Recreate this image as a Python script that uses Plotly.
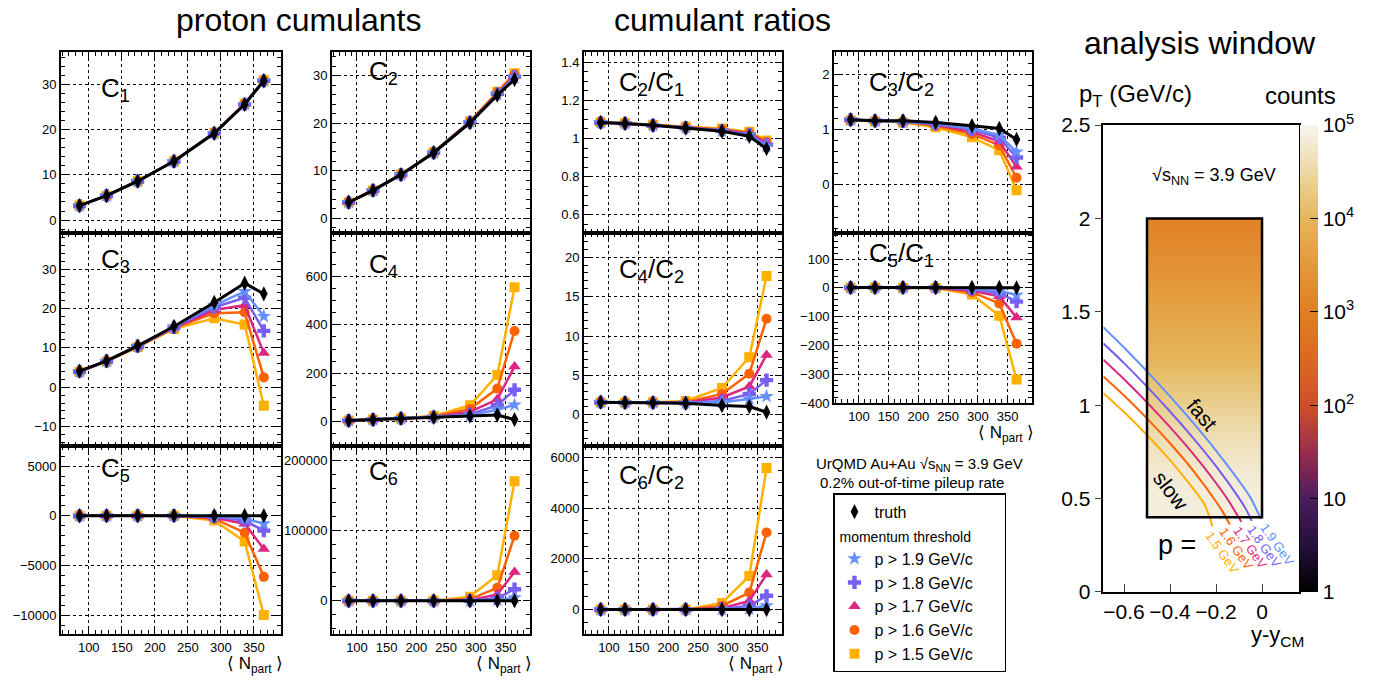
import numpy as np
import plotly.graph_objects as go

W, H = 1378, 681
FONT = "Liberation Sans, Arial, Helvetica, sans-serif"

# ---------------- data ----------------
npart = [86, 127, 174, 229, 290, 336, 365]

C1 = {
    "truth": [3.2, 5.4, 8.6, 13.0, 19.2, 25.6, 30.8],
    "1.9": [3.2, 5.4, 8.6, 13.0, 19.2, 25.6, 30.8],
    "1.8": [3.2, 5.4, 8.6, 13.0, 19.2, 25.6, 30.8],
    "1.7": [3.2, 5.4, 8.6, 13.0, 19.3, 25.7, 30.9],
    "1.6": [3.2, 5.4, 8.6, 13.0, 19.3, 25.7, 30.9],
    "1.5": [3.2, 5.4, 8.6, 13.0, 19.3, 25.7, 30.9],
}
C2 = {
    "truth": [3.4, 5.9, 9.2, 13.8, 20.1, 25.9, 29.2],
    "1.9": [3.4, 5.9, 9.2, 13.8, 20.2, 26.1, 29.6],
    "1.8": [3.4, 5.9, 9.2, 13.8, 20.2, 26.2, 29.8],
    "1.7": [3.4, 5.9, 9.2, 13.9, 20.3, 26.3, 30.0],
    "1.6": [3.4, 5.9, 9.2, 13.9, 20.3, 26.5, 30.3],
    "1.5": [3.4, 5.9, 9.3, 13.9, 20.4, 26.6, 30.5],
}
C3 = {
    "truth": [4.1, 6.7, 10.5, 15.4, 21.5, 26.4, 23.7],
    "1.9": [4.0, 6.6, 10.4, 15.3, 20.8, 24.3, 18.0],
    "1.8": [4.0, 6.6, 10.4, 15.2, 20.3, 22.7, 14.3],
    "1.7": [4.0, 6.6, 10.3, 15.1, 19.6, 20.8, 8.7],
    "1.6": [4.0, 6.6, 10.3, 15.0, 18.8, 19.0, 2.5],
    "1.5": [3.9, 6.5, 10.2, 14.8, 17.5, 15.9, -4.7],
}
C4 = {
    "truth": [5, 9, 14, 19, 24, 28, 9],
    "1.9": [5, 9, 14, 20, 27, 50, 70],
    "1.8": [5, 9, 14, 20, 31, 68, 132],
    "1.7": [5, 9, 14, 21, 41, 93, 228],
    "1.6": [5, 9, 14, 22, 53, 137, 375],
    "1.5": [5, 9, 15, 24, 68, 193, 555],
}
C5 = {
    "truth": [2, 4, 8, 15, 20, 25, 10],
    "1.9": [2, 4, 8, 14, -60, -280, -800],
    "1.8": [2, 4, 8, 13, -100, -480, -1500],
    "1.7": [2, 4, 7, 12, -190, -800, -3350],
    "1.6": [2, 4, 7, 10, -290, -1700, -6150],
    "1.5": [2, 4, 6, 5, -480, -2600, -10000],
}
C6 = {
    "truth": [0, 0, 0, 0, 0, 0, 0],
    "1.9": [0, 0, 0, 0, 100, 800, 4600],
    "1.8": [0, 0, 0, 0, 300, 3700, 16500],
    "1.7": [0, 0, 0, 0, 1000, 9000, 41000],
    "1.6": [0, 0, 0, 0, 2500, 18500, 92500],
    "1.5": [0, 0, 0, 0, 5700, 36500, 170000],
}
C2_C1 = {
    "truth": [1.084, 1.079, 1.069, 1.055, 1.038, 1.012, 0.947],
    "1.9": [1.084, 1.079, 1.069, 1.056, 1.040, 1.018, 0.960],
    "1.8": [1.084, 1.079, 1.069, 1.057, 1.042, 1.022, 0.968],
    "1.7": [1.084, 1.079, 1.070, 1.058, 1.045, 1.026, 0.975],
    "1.6": [1.085, 1.080, 1.071, 1.060, 1.048, 1.030, 0.983],
    "1.5": [1.086, 1.081, 1.072, 1.062, 1.052, 1.035, 0.990],
}
C3_C2 = {
    "truth": [1.18, 1.16, 1.16, 1.13, 1.07, 1.02, 0.82],
    "1.9": [1.18, 1.16, 1.15, 1.11, 1.02, 0.90, 0.59],
    "1.8": [1.18, 1.16, 1.15, 1.10, 1.00, 0.85, 0.49],
    "1.7": [1.18, 1.16, 1.14, 1.09, 0.96, 0.78, 0.32],
    "1.6": [1.17, 1.15, 1.14, 1.07, 0.92, 0.71, 0.12],
    "1.5": [1.17, 1.15, 1.13, 1.04, 0.86, 0.62, -0.11],
}
C4_C2 = {
    "truth": [1.6, 1.55, 1.55, 1.47, 1.18, 1.05, 0.34],
    "1.9": [1.6, 1.55, 1.55, 1.5, 1.6, 2.0, 2.35],
    "1.8": [1.6, 1.55, 1.55, 1.5, 1.75, 2.65, 4.4],
    "1.7": [1.6, 1.55, 1.56, 1.55, 2.2, 3.6, 7.6],
    "1.6": [1.6, 1.56, 1.57, 1.6, 2.65, 5.2, 12.2],
    "1.5": [1.6, 1.56, 1.58, 1.75, 3.4, 7.3, 17.6],
}
C5_C1 = {
    "truth": [1, 1, 1, 1, 1, 1, 0],
    "1.9": [1, 1, 1, 1, -3, -10, -25],
    "1.8": [1, 1, 1, 1, -5, -18, -48],
    "1.7": [1, 1, 1, 0, -10, -29, -103],
    "1.6": [1, 1, 1, 0, -15, -54, -194],
    "1.5": [1, 1, 0, -1, -23, -97, -318],
}
C6_C2 = {
    "truth": [0, 0, 0, 0, 0, 0, 0],
    "1.9": [0, 0, 0, 0, 10, 30, 150],
    "1.8": [0, 0, 0, 0, 25, 140, 540],
    "1.7": [0, 0, 0, 0, 50, 340, 1385],
    "1.6": [0, 0, 0, 0, 140, 670, 3045],
    "1.5": [0, 0, 0, 0, 260, 1320, 5590],
}

# tick labels written without thousands separators (as in the reference)
c5_tickvals = [-10000, -5000, 0, 5000]
c5_ticktext = ["−10000", "−5000", "0", "5000"]
c6_tickvals = [0, 100000, 200000]
c6_ticktext = ["0", "100000", "200000"]

# analysis window: counts per pT bin (bin edges below), two rapidity columns
window_y_edges = [-0.5, -0.25, 0.0]
window_pt_edges = [0.4, 0.5, 0.6, 0.7, 0.8, 0.9, 1.0, 1.1, 1.2, 1.3, 1.4,
                   1.5, 1.6, 1.7, 1.8, 1.9, 2.0]
counts_pt = [75000, 72000, 63000, 50000, 38000, 28000, 20000, 14000, 10000,
             7500, 5600, 4200, 3100, 2300, 1700, 1250]
window_box_y = [-0.5, 0.0]
window_box_pt = [0.4, 2.0]

# constant-momentum curves (y - y_CM, pT)
curve_u = {
    "1.9": [-0.69, -0.6, -0.5, -0.4, -0.3, -0.2, -0.1, -0.05, -0.005],
    "1.8": [-0.69, -0.6, -0.5, -0.4, -0.3, -0.2, -0.1, -0.07, -0.045],
    "1.7": [-0.69, -0.6, -0.5, -0.4, -0.3, -0.2, -0.15, -0.09],
    "1.6": [-0.69, -0.6, -0.5, -0.4, -0.3, -0.2, -0.17, -0.14],
    "1.5": [-0.69, -0.6, -0.5, -0.4, -0.3, -0.25, -0.215],
}
curve_pt = {
    "1.9": [1.418, 1.309, 1.181, 1.047, 0.906, 0.757, 0.594, 0.504, 0.39],
    "1.8": [1.331, 1.225, 1.099, 0.966, 0.825, 0.673, 0.502, 0.443, 0.38],
    "1.7": [1.243, 1.139, 1.015, 0.882, 0.740, 0.583, 0.496, 0.375],
    "1.6": [1.154, 1.052, 0.929, 0.796, 0.651, 0.484, 0.427, 0.36],
    "1.5": [1.064, 0.963, 0.840, 0.705, 0.554, 0.468, 0.35],
}

# ---------------- geometry helpers ----------------
# the captured picture shows the page slightly squeezed vertically;
# target picture rows are mapped back to figure rows here
CAP_A, CAP_B = 10.4, 0.973


def fy(py):
    """paper-y fraction for a target picture row py"""
    return 1 - ((py - CAP_A) / CAP_B) / H


def fx(px):
    return px / W


# ---------------- styles ----------------
PAD = "<span style='color:white'>mm</span>"
style = {
    "truth": dict(name="truth", color="black", symbol="diamond-tall", size=11, lw=3),
    "1.9": dict(name="p &gt; 1.9 GeV/c" + PAD, color="#648FFF", symbol="star", size=11, lw=2.5),
    "1.8": dict(name="p &gt; 1.8 GeV/c" + PAD, color="#785EF0", symbol="cross", size=11, lw=2.5),
    "1.7": dict(name="p &gt; 1.7 GeV/c" + PAD, color="#DC267F", symbol="triangle-up", size=11, lw=2.5),
    "1.6": dict(name="p &gt; 1.6 GeV/c" + PAD, color="#FE6100", symbol="circle", size=10, lw=2.5),
    "1.5": dict(name="p &gt; 1.5 GeV/c" + PAD, color="#FFB000", symbol="square", size=10, lw=2.5),
}
draw_order = ["1.5", "1.6", "1.7", "1.8", "1.9", "truth"]
legend_order = ["truth", "1.9", "1.8", "1.7", "1.6", "1.5"]

col_x = {1: (61, 281), 2: (332, 530), 3: (584, 782), 4: (834, 1032)}
row_y = {1: (51, 232.7), 2: (232.7, 447), 3: (447, 637)}
row_y4 = {1: (51, 233), 2: (233, 404.3)}

panels = [
    dict(d=C1, lab="C<sub>1</sub>", col=1, row=1, yr=[-2.8, 37.1], dt=10, mdt=2, lx=99, ly=88),
    dict(d=C3, lab="C<sub>3</sub>", col=1, row=2, yr=[-14.8, 39.2], dt=10, mdt=2, lx=99, ly=261),
    dict(d=C5, lab="C<sub>5</sub>", col=1, row=3, yr=[-11930, 7070], dt=5000, mdt=1000, lx=99, ly=471,
         tv=c5_tickvals, tt=c5_ticktext),
    dict(d=C2, lab="C<sub>2</sub>", col=2, row=1, yr=[-3.0, 34.9], dt=10, mdt=2, lx=367, ly=71),
    dict(d=C4, lab="C<sub>4</sub>", col=2, row=2, yr=[-98, 780], dt=200, mdt=50, lx=367, ly=266),
    dict(d=C6, lab="C<sub>6</sub>", col=2, row=3, yr=[-47500, 220700], dt=100000, mdt=20000, lx=367, ly=474,
         tv=c6_tickvals, tt=c6_ticktext),
    dict(d=C2_C1, lab="C<sub>2</sub>/C<sub>1</sub>", col=3, row=1, yr=[0.506, 1.452], dt=0.2, mdt=0.05, lx=617, ly=82),
    dict(d=C4_C2, lab="C<sub>4</sub>/C<sub>2</sub>", col=3, row=2, yr=[-3.9, 23.1], dt=5, mdt=1, lx=617, ly=271),
    dict(d=C6_C2, lab="C<sub>6</sub>/C<sub>2</sub>", col=3, row=3, yr=[-980, 6480], dt=2000, mdt=500, lx=617, ly=478),
    dict(d=C3_C2, lab="C<sub>3</sub>/C<sub>2</sub>", col=4, row=1, yr=[-0.89, 2.41], dt=1, mdt=0.2, lx=867, ly=82),
    dict(d=C5_C1, lab="C<sub>5</sub>/C<sub>1</sub>", col=4, row=2, yr=[-400, 190], dt=100, mdt=20, lx=867, ly=255),
]

fig = go.Figure()
layout = {}
annotations = []
shapes = []


def ann(text, px, py, size, xanchor="center", yanchor="middle", color="black", angle=0):
    return dict(text=text, x=fx(px), y=fy(py), xref="paper", yref="paper",
                showarrow=False, font=dict(size=size, color=color, family=FONT),
                xanchor=xanchor, yanchor=yanchor, textangle=angle)


for i, pn in enumerate(panels, start=1):
    xa = "x" if i == 1 else f"x{i}"
    ya = "y" if i == 1 else f"y{i}"
    xkey = "xaxis" if i == 1 else f"xaxis{i}"
    ykey = "yaxis" if i == 1 else f"yaxis{i}"
    x0, x1 = col_x[pn["col"]]
    if pn["col"] == 4:
        top, bot = row_y4[pn["row"]]
        bottom_panel = pn["row"] == 2
    else:
        top, bot = row_y[pn["row"]]
        bottom_panel = pn["row"] == 3
    common = dict(showline=True, linewidth=2, linecolor="black", mirror="allticks",
                  ticks="inside", ticklen=7, tickwidth=1, tickcolor="black",
                  showgrid=True, gridcolor="black", gridwidth=1, griddash="dot",
                  zeroline=False, tickfont=dict(size=13, family=FONT, color="black"))
    layout[xkey] = dict(domain=[fx(x0), fx(x1)], anchor=ya, range=[58, 391],
                        tick0=0, dtick=50, showticklabels=bottom_panel,
                        minor=dict(ticks="inside", ticklen=4, dtick=10, tickcolor="black", showgrid=False),
                        **common)
    if "tv" in pn:
        yextra = dict(tickmode="array", tickvals=pn["tv"], ticktext=pn["tt"])
    else:
        yextra = dict(tick0=0, dtick=pn["dt"])
    layout[ykey] = dict(domain=[fy(bot), fy(top)], anchor=xa, range=pn["yr"],
                        exponentformat="none",
                        minor=dict(ticks="inside", ticklen=4, tick0=0, dtick=pn["mdt"],
                                   tickcolor="black", showgrid=False),
                        **yextra, **common)
    for key in draw_order:
        s = style[key]
        fig.add_trace(go.Scatter(
            x=npart, y=pn["d"][key], mode="lines+markers", xaxis=xa, yaxis=ya,
            line=dict(color=s["color"], width=s["lw"]),
            marker=dict(symbol=s["symbol"], size=s["size"], color=s["color"], line=dict(width=0)),
            showlegend=False, hoverinfo="skip"))
    annotations.append(ann(pn["lab"], pn["lx"], pn["ly"], 26, xanchor="left"))
    if bottom_panel:
        annotations.append(ann("⟨ N<sub>part</sub> ⟩", x1 - 26, bot + 31, 17))

# legend-only traces
for key in legend_order:
    s = style[key]
    grp = "truth" if key == "truth" else "thr"
    kw = {}
    if key == "1.9":
        kw["legendgrouptitle"] = dict(text="momentum threshold", font=dict(size=14, family=FONT))
    fig.add_trace(go.Scatter(
        x=[None], y=[None], mode="markers", name=s["name"], legendgroup=grp,
        marker=dict(symbol=s["symbol"], size=s["size"], color=s["color"], line=dict(width=0)),
        showlegend=True, **kw))

# ---------------- analysis window ----------------
xr0, xr1 = 1103.3, 1299.3
yr0, yr1 = 124.3, 594.3
layout["xaxis12"] = dict(domain=[fx(xr0), fx(xr1)], anchor="y12", range=[-0.69, 0.162],
                         tickvals=[-0.6, -0.4, -0.2, 0], ticks="inside", ticklen=8,
                         showline=True, linewidth=1.5, linecolor="black", mirror=True,
                         showgrid=False, zeroline=False,
                         tickfont=dict(size=21, family=FONT, color="black"))
layout["yaxis12"] = dict(domain=[fy(yr1), fy(yr0)], anchor="x12", range=[0, 2.5],
                         dtick=0.5, ticks="outside", ticklen=7,
                         showline=True, linewidth=1.5, linecolor="black", mirror=True,
                         showgrid=False, zeroline=False,
                         tickfont=dict(size=21, family=FONT, color="black"))

colorscale = [
    [0.0, "#000000"], [0.1, "#24103a"], [0.2, "#4b1d5e"], [0.3, "#9a2d4c"],
    [0.4, "#cf4f2b"], [0.5, "#dc6920"], [0.6, "#e07f22"], [0.7, "#e3993a"],
    [0.8, "#e5b65a"], [0.9, "#ecd8a4"], [1.0, "#f6f5f0"],
]
z = np.log10(np.array([counts_pt, counts_pt], dtype=float).T)
cb_tickvals = [0, 1, 2, 3, 4, 5]
cb_ticktext = ["1", "10", "10<sup>2</sup>", "10<sup>3</sup>", "10<sup>4</sup>", "10<sup>5</sup>"]
cbx0, cbx1 = 1300, 1318
fig.add_trace(go.Heatmap(
    x=window_y_edges, y=window_pt_edges, z=z, xaxis="x12", yaxis="y12",
    zmin=0, zmax=5, colorscale=colorscale, zsmooth="best", showscale=True,
    hoverinfo="skip",
    colorbar=dict(x=fx(cbx0), xanchor="left", xpad=0, ypad=0, thickness=cbx1 - cbx0,
                  len=fy(yr0) - fy(yr1), lenmode="fraction", y=(fy(yr0) + fy(yr1)) / 2,
                  yanchor="middle", outlinewidth=0, ticks="inside", ticklen=8,
                  tickcolor="black", tickvals=cb_tickvals, ticktext=cb_ticktext,
                  tickfont=dict(size=21, family=FONT, color="black"))))

# minor log ticks on the colour bar
for k in range(5):
    for m in range(2, 10):
        frac = (k + np.log10(m)) / 5.0
        yy = fy(yr1) + frac * (fy(yr0) - fy(yr1))
        shapes.append(dict(type="line", xref="paper", yref="paper",
                           x0=fx(cbx1 - 4), x1=fx(cbx1), y0=yy, y1=yy,
                           line=dict(color="black", width=1)))

for key in ["1.5", "1.6", "1.7", "1.8", "1.9"]:
    fig.add_trace(go.Scatter(
        x=curve_u[key], y=curve_pt[key], mode="lines", xaxis="x12", yaxis="y12",
        line=dict(color=style[key]["color"], width=2, shape="spline", smoothing=0.8),
        showlegend=False, hoverinfo="skip"))

shapes.append(dict(type="rect", xref="x12", yref="y12",
                   x0=window_box_y[0], x1=window_box_y[1], y0=window_box_pt[0], y1=window_box_pt[1],
                   line=dict(color="black", width=2.5), fillcolor="rgba(0,0,0,0)"))

# ---------------- text ----------------
annotations += [
    ann("proton cumulants", 298, 18, 32),
    ann("cumulant ratios", 722, 18, 32),
    ann("analysis window", 1200, 42, 32),
    ann("UrQMD Au+Au √s<sub>NN</sub> = 3.9 GeV", 919, 466, 15),
    ann("0.2% out-of-time pileup rate", 912, 484, 15),
    ann("p<sub>T</sub> (GeV/c)", 1135, 94, 24),
    ann("counts", 1300, 94, 24),
    ann("√s<sub>NN</sub> = 3.9 GeV", 1214, 176, 18),
    ann("y-y<sub>CM</sub>", 1277, 639, 22),
    ann("p =", 1177, 547, 27),
    ann("fast", 1202, 416, 21, angle=50),
    ann("slow", 1171, 492, 21, angle=52),
]
gev_pos = {"1.9": (1277, 547), "1.8": (1264, 549), "1.7": (1250, 550),
           "1.6": (1236, 551), "1.5": (1222, 555)}
for key, (gx, gy) in gev_pos.items():
    annotations.append(ann(f"{key} GeV", gx, gy, 13, color=style[key]["color"], angle=55))

fig.update_layout(
    width=W, height=H, margin=dict(l=0, r=0, t=0, b=0),
    paper_bgcolor="white", plot_bgcolor="white",
    font=dict(family=FONT, color="black"),
    annotations=annotations, shapes=shapes,
    legend=dict(x=fx(833), y=fy(495), xanchor="left", yanchor="top",
                bgcolor="white", bordercolor="black", borderwidth=1.5,
                font=dict(size=16, family=FONT, color="black"), tracegroupgap=2),
    **layout,
)

fig.write_html("out.html")
